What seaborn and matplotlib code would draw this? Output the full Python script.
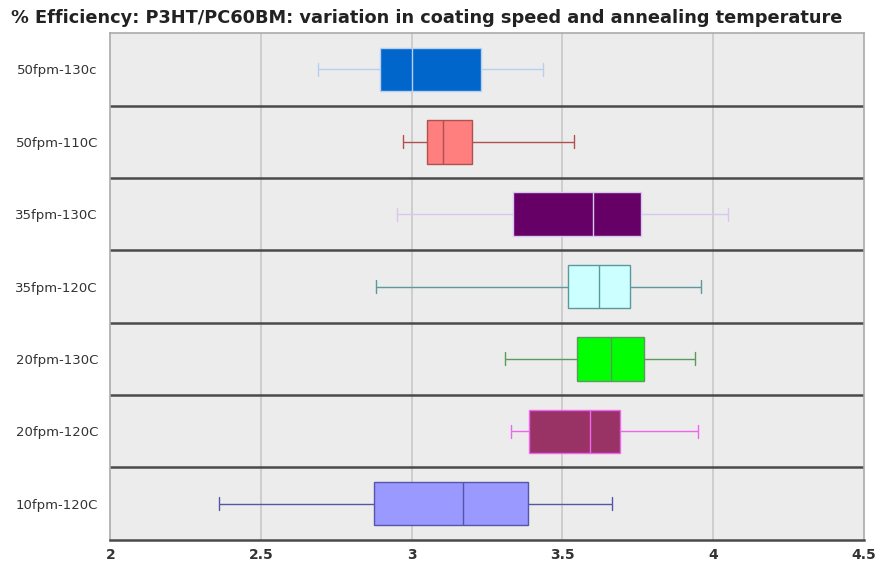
import pandas as pd
import matplotlib.pyplot as plt
import seaborn as sns

# Five-number summaries
categorias = ['50fpm-130c', '50fpm-110C', '35fpm-130C', '35fpm-120C',
              '20fpm-130C', '20fpm-120C', '10fpm-120C']
minimos = [2.69, 2.97, 2.95, 2.88, 3.31, 3.33, 2.36]
q1s = [2.895, 3.05, 3.335, 3.52, 3.55, 3.39, 2.875]
medianas = [3.00, 3.105, 3.60, 3.62, 3.66, 3.59, 3.17]
q3s = [3.23, 3.20, 3.76, 3.725, 3.77, 3.69, 3.385]
maximos = [3.435, 3.54, 4.05, 3.96, 3.94, 3.95, 3.665]

cores = ['#0066cc', '#ff7f7f', '#660066', '#ccffff', '#00ff00', '#993366', '#9999ff']
cores_linha = ['#b8d0f0', '#b05050', '#d8c8f0', '#5a9a9a', '#5a9a5a', '#ee66ee', '#5555aa']

linhas = []
for c, a, b, m, d, e in zip(categorias, minimos, q1s, medianas, q3s, maximos):
    for v in (a, b, m, d, e):
        linhas.append({'Amostra': c, 'Eficiencia': v})
df = pd.DataFrame(linhas)

sns.set_style('white')
plt.rcParams['font.family'] = ['DejaVu Sans']

fig, ax = plt.subplots(figsize=(8.76, 5.64), dpi=100)
fig.subplots_adjust(left=0.126, right=0.986, top=0.941, bottom=0.043)
ax.set_facecolor('#ececec')

for c, cor, cl in zip(categorias, cores, cores_linha):
    sns.boxplot(data=df[df['Amostra'] == c], x='Eficiencia', y='Amostra',
                order=categorias, color=cor, linecolor=cl, linewidth=1,
                whis=(0, 100), width=0.6, saturation=1, ax=ax)

# caps mais curtos, como no original
for ln in ax.lines:
    x, y = ln.get_xdata(), ln.get_ydata()
    if len(x) == 2 and x[0] == x[1] and abs(y[1] - y[0]) < 0.45 and abs(y[1] - y[0]) > 0.25:
        mid = (y[0] + y[1]) / 2
        ln.set_ydata([mid - 0.09, mid + 0.09])

ax.set_xlim(2, 4.5)
ax.set_ylim(6.5, -0.5)
ax.set_xticks([2, 2.5, 3, 3.5, 4, 4.5])
ax.set_xticklabels(['2', '2.5', '3', '3.5', '4', '4.5'], fontweight='bold', color='#333333')
for xv in [2.5, 3, 3.5, 4]:
    ax.axvline(xv, color='#c8c8c8', linewidth=1.2, zorder=0)
for yv in [0.5, 1.5, 2.5, 3.5, 4.5, 5.5]:
    ax.axhline(yv, color='#4a4a4a', linewidth=1.8, zorder=1)

ax.tick_params(axis='x', length=4, width=1, color='#555555', labelsize=10, pad=2)
ax.tick_params(axis='y', length=0, labelsize=9.5, labelcolor='#333333', pad=9)
ax.set_xlabel('')
ax.set_ylabel('')

for s in ['top', 'right', 'left']:
    ax.spines[s].set_color('#aaaaaa')
    ax.spines[s].set_linewidth(1.2)
ax.spines['bottom'].set_color('#4a4a4a')
ax.spines['bottom'].set_linewidth(1.8)

fig.text(0.012, 0.968, '% Efficiency: P3HT/PC60BM: variation in coating speed and annealing temperature',
         fontsize=12.8, fontweight='bold', color='#222222', va='center')

plt.savefig('out.png', dpi=100)
